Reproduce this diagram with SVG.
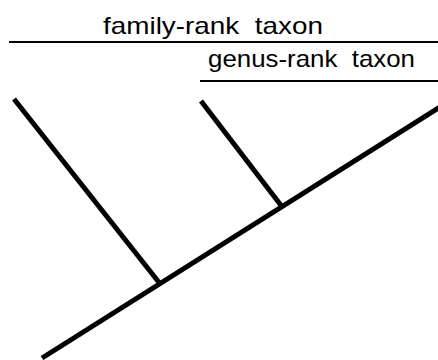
<svg xmlns="http://www.w3.org/2000/svg" width="438" height="360" viewBox="0 0 438 360">
<style>
.lbl{font-family:"Liberation Sans",Arial,sans-serif;font-size:24px;fill:#000;}
.rule{stroke:#000;stroke-width:2;fill:none;}
.br{stroke:#000;stroke-width:5;fill:none;stroke-linecap:butt;}
</style>
<rect width="438" height="360" fill="#fff"/>
<g id="family-label">
<text class="lbl" x="103" y="34" textLength="220" lengthAdjust="spacingAndGlyphs" xml:space="preserve">family-rank  taxon</text>
<line class="rule" x1="9" y1="42" x2="438" y2="42"/>
</g>
<g id="genus-label">
<text class="lbl" x="208" y="67" textLength="207" lengthAdjust="spacingAndGlyphs" xml:space="preserve">genus-rank  taxon</text>
<line class="rule" x1="200" y1="81" x2="438" y2="81"/>
</g>
<g id="connectors">
<line class="br" x1="42" y1="358" x2="440" y2="107"/>
<line class="br" x1="14" y1="99" x2="161" y2="285"/>
<line class="br" x1="201" y1="101" x2="283" y2="208"/>
</g>
</svg>
